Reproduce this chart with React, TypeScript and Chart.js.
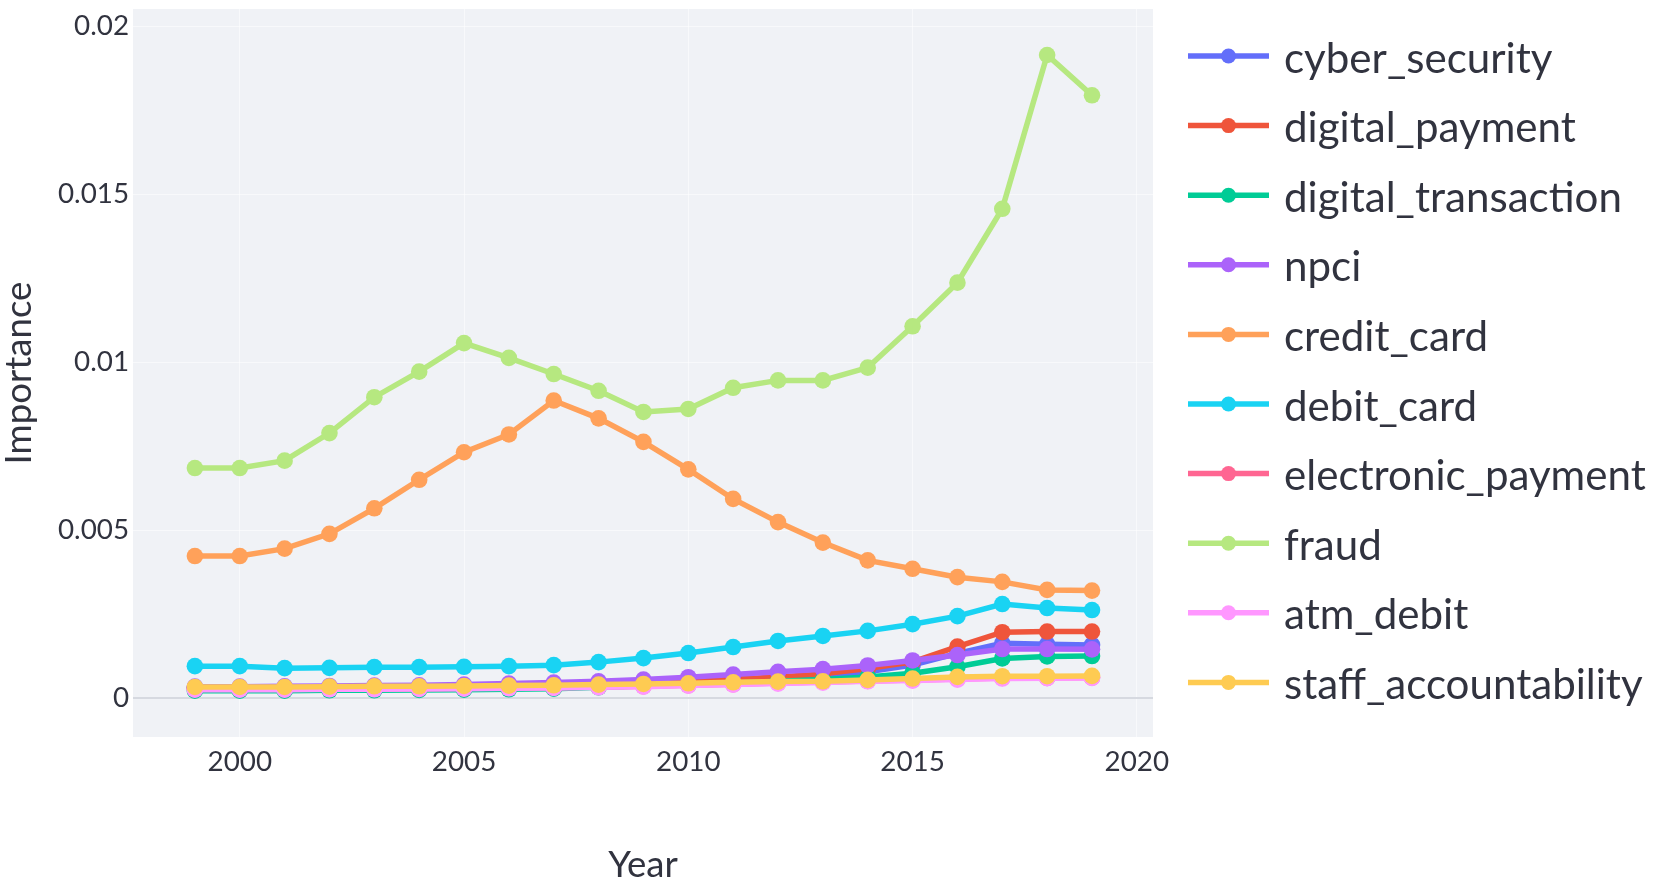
import React, { useEffect, useRef } from 'react';
import { Chart, registerables } from 'chart.js';

Chart.register(...registerables);

// ---------- data ----------
const years = [1999, 2000, 2001, 2002, 2003, 2004, 2005, 2006, 2007, 2008, 2009, 2010, 2011, 2012, 2013, 2014, 2015, 2016, 2017, 2018, 2019];

const seriesNames = [
  'cyber_security',
  'digital_payment',
  'digital_transaction',
  'npci',
  'credit_card',
  'debit_card',
  'electronic_payment',
  'fraud',
  'atm_debit',
  'staff_accountability',
];

const cyberSecurity = [0.0003, 0.0003, 0.0003, 0.00031, 0.00032, 0.00033, 0.00034, 0.00036, 0.00038, 0.0004, 0.00043, 0.00046, 0.0005, 0.00055, 0.00062, 0.00078, 0.00098, 0.00133, 0.00163, 0.0016, 0.00158];
const digitalPayment = [0.0003, 0.0003, 0.0003, 0.00031, 0.00032, 0.00033, 0.00034, 0.00036, 0.00038, 0.0004, 0.00044, 0.0005, 0.00056, 0.00063, 0.00072, 0.00088, 0.00108, 0.00153, 0.00196, 0.00198, 0.00198];
const digitalTransaction = [0.00022, 0.00022, 0.00022, 0.00023, 0.00023, 0.00024, 0.00025, 0.00026, 0.00028, 0.00032, 0.00036, 0.0004, 0.00045, 0.0005, 0.00055, 0.00063, 0.00074, 0.00093, 0.00118, 0.00124, 0.00125];
const npci = [0.00034, 0.00034, 0.00035, 0.00036, 0.00037, 0.00038, 0.0004, 0.00043, 0.00046, 0.0005, 0.00055, 0.00062, 0.0007, 0.00078, 0.00086, 0.00097, 0.00112, 0.00128, 0.00146, 0.00146, 0.00145];
const creditCard = [0.00423, 0.00423, 0.00445, 0.00489, 0.00565, 0.0065, 0.00732, 0.00785, 0.00886, 0.00833, 0.00763, 0.00681, 0.00593, 0.00524, 0.00463, 0.0041, 0.00385, 0.0036, 0.00346, 0.00322, 0.0032];
const debitCard = [0.00095, 0.00095, 0.00089, 0.0009, 0.00092, 0.00092, 0.00093, 0.00095, 0.00098, 0.00107, 0.00119, 0.00134, 0.00152, 0.0017, 0.00185, 0.002, 0.0022, 0.00244, 0.0028, 0.00268, 0.00262];
const electronicPayment = [0.00026, 0.00026, 0.00026, 0.00027, 0.00027, 0.00028, 0.00029, 0.0003, 0.00031, 0.00033, 0.00035, 0.00038, 0.00041, 0.00045, 0.00048, 0.00051, 0.00054, 0.00057, 0.0006, 0.0006, 0.00061];
const fraud = [0.00685, 0.00685, 0.00707, 0.00789, 0.00896, 0.00972, 0.01057, 0.01013, 0.00965, 0.00915, 0.00852, 0.00861, 0.00924, 0.00946, 0.00946, 0.00984, 0.01107, 0.01237, 0.01457, 0.01915, 0.01795];
const atmDebit = [0.00025, 0.00025, 0.00025, 0.00026, 0.00026, 0.00027, 0.00028, 0.00029, 0.0003, 0.00032, 0.00034, 0.00037, 0.0004, 0.00043, 0.00046, 0.0005, 0.00052, 0.00055, 0.00058, 0.00059, 0.0006];
const staffAccountability = [0.00033, 0.00033, 0.00033, 0.00034, 0.00035, 0.00035, 0.00036, 0.00037, 0.00038, 0.0004, 0.00042, 0.00044, 0.00047, 0.00049, 0.0005, 0.00054, 0.00058, 0.00063, 0.00065, 0.00065, 0.00066];

const seriesValues = [
  cyberSecurity,
  digitalPayment,
  digitalTransaction,
  npci,
  creditCard,
  debitCard,
  electronicPayment,
  fraud,
  atmDebit,
  staffAccountability,
];

const xTicks = [2000, 2005, 2010, 2015, 2020];
const yTicks = [0, 0.005, 0.01, 0.015, 0.02];
const xTitle = 'Year';
const yTitle = 'Importance';

// ---------- style ----------
const colors = ['#636EFA', '#EF553B', '#00CC96', '#AB63FA', '#FFA15A', '#19D3F3', '#FF6692', '#B6E880', '#FF97FF', '#FECB52'];
const textColor = '#31333F';
const plotBg = '#F0F2F6';
const gridColor = 'rgba(255,255,255,0.55)';
const zeroColor = '#D6D9E0';
const family = 'Lato, "Noto Sans", sans-serif';

const W = 1662;
const H = 895;
const AREA = { left: 133, right: 1153, top: 9, bottom: 737 };

function fitSize(text: string, target: number, fam: string): number {
  const c = document.createElement('canvas').getContext('2d');
  if (!c) return 20;
  c.font = `100px ${fam}`;
  const w = c.measureText(text).width;
  return Math.round((100 * target / w) * 10) / 10;
}

export default function App() {
  const ref = useRef<HTMLCanvasElement>(null);

  useEffect(() => {
    document.body.style.margin = '0';
    document.body.style.overflow = 'hidden';
    const canvas = ref.current;
    if (!canvas) return;

    const tickSize = fitSize('0.015', 71, family);
    const legendSize = fitSize('digital_transaction', 338, family);
    const titleSize = fitSize('Importance', 183, family);

    const N = seriesNames.length;

    const bgPlugin = {
      id: 'plotBg',
      beforeDraw(chart: any) {
        const { ctx, chartArea } = chart;
        ctx.save();
        ctx.fillStyle = plotBg;
        ctx.fillRect(chartArea.left, chartArea.top, chartArea.right - chartArea.left, chartArea.bottom - chartArea.top);
        ctx.restore();
      },
    };

    const legendPlugin = {
      id: 'plotlyLegend',
      afterDraw(chart: any) {
        const ctx = chart.ctx;
        ctx.save();
        const top = 56;
        const step = 69.6;
        seriesNames.forEach((name, i) => {
          const y = top + i * step;
          ctx.strokeStyle = colors[i];
          ctx.lineWidth = 5.5;
          ctx.lineCap = 'butt';
          ctx.beginPath();
          ctx.moveTo(1188, y);
          ctx.lineTo(1269, y);
          ctx.stroke();
          ctx.fillStyle = colors[i];
          ctx.beginPath();
          ctx.arc(1228.5, y, 7.5, 0, Math.PI * 2);
          ctx.fill();
          ctx.fillStyle = textColor;
          ctx.font = `${legendSize}px ${family}`;
          ctx.textAlign = 'left';
          ctx.textBaseline = 'middle';
          ctx.fillText(name, 1284, y + 3);
        });
        ctx.restore();
      },
    };

    const chart = new Chart(canvas, {
      type: 'line',
      data: {
        datasets: seriesNames.map((name, i) => ({
          label: name,
          data: years.map((yr, j) => ({ x: yr, y: seriesValues[i][j] })),
          borderColor: colors[i],
          backgroundColor: colors[i],
          pointBackgroundColor: colors[i],
          pointBorderWidth: 0,
          pointRadius: 8.3,
          pointHoverRadius: 8.3,
          borderWidth: 5.5,
          tension: 0,
          fill: false,
          order: N - i,
        })),
      },
      options: {
        animation: false,
        responsive: false,
        devicePixelRatio: 1,
        events: [],
        layout: { padding: { top: AREA.top, right: W - AREA.right, left: 0, bottom: 0 } },
        plugins: {
          legend: { display: false },
          tooltip: { enabled: false },
        },
        scales: {
          x: {
            type: 'linear',
            min: 1997.62,
            max: 2020.36,
            afterBuildTicks: (s: any) => {
              s.ticks = xTicks.map((v) => ({ value: v }));
            },
            afterFit: (s: any) => {
              s.height = H - AREA.bottom;
              s.paddingLeft = 0;
              s.paddingRight = 0;
              s.paddingTop = 0;
              s.paddingBottom = 0;
            },
            ticks: {
              callback: (v: any) => String(v),
              font: { family, size: tickSize, lineHeight: 1.2 },
              color: textColor,
              padding: 8,
              maxRotation: 0,
              autoSkip: false,
            },
            grid: { color: gridColor, lineWidth: 1, drawTicks: false },
            border: { display: false },
            title: {
              display: true,
              text: xTitle,
              color: textColor,
              font: { family, size: titleSize, lineHeight: 1 },
              padding: { top: 0, bottom: 11 },
            },
          },
          y: {
            type: 'linear',
            min: -0.00116,
            max: 0.02052,
            afterBuildTicks: (s: any) => {
              s.ticks = yTicks.map((v) => ({ value: v }));
            },
            afterFit: (s: any) => {
              s.width = AREA.left;
              s.paddingLeft = 0;
              s.paddingRight = 0;
              s.paddingTop = 0;
              s.paddingBottom = 0;
            },
            ticks: {
              callback: (v: any) => String(v),
              font: { family, size: tickSize, lineHeight: 1.2 },
              color: textColor,
              padding: 4,
              autoSkip: false,
            },
            grid: {
              color: (c: any) => (c.tick && c.tick.value === 0 ? zeroColor : gridColor),
              lineWidth: (c: any) => (c.tick && c.tick.value === 0 ? 2 : 1),
              drawTicks: false,
            },
            border: { display: false },
            title: {
              display: true,
              text: yTitle,
              color: textColor,
              font: { family, size: titleSize, lineHeight: 1 },
              padding: { top: Math.max(0, 19 - titleSize / 2), bottom: 0 },
            },
          },
        },
      },
      plugins: [bgPlugin, legendPlugin],
    } as any);

    return () => chart.destroy();
  }, []);

  return (
    <div style={{ width: W, height: H, position: 'relative' }}>
      <canvas ref={ref} width={W} height={H} style={{ display: 'block', width: W, height: H }} />
    </div>
  );
}
